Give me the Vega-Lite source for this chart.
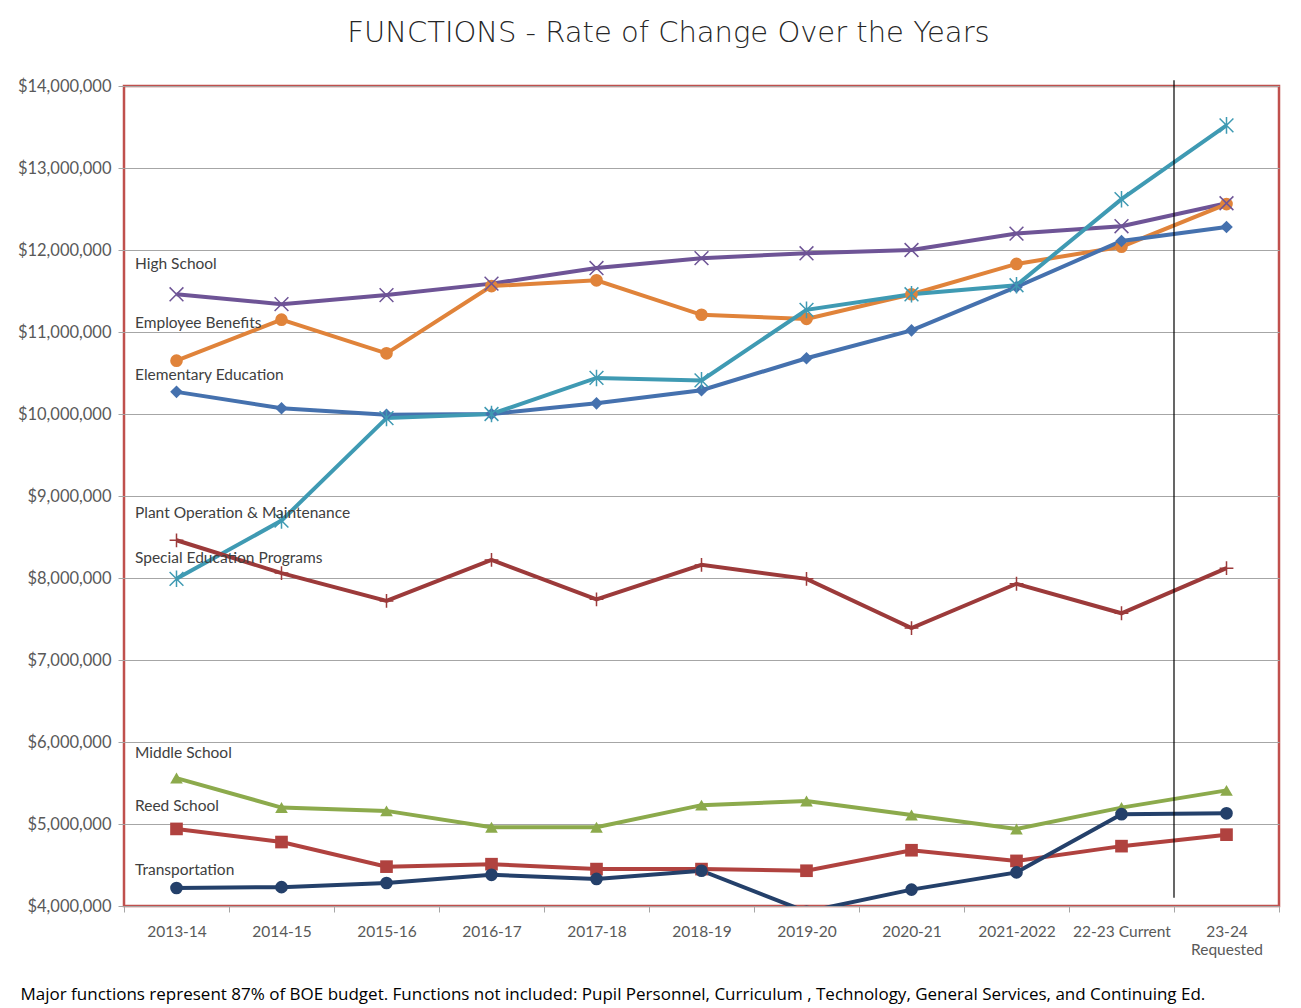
{
  "$schema": "https://vega.github.io/schema/vega-lite/v6.json",
  "autosize": "none",
  "width": 1155,
  "height": 820,
  "padding": {"left": 124, "top": 86, "right": 22, "bottom": 102},
  "background": "white",
  "title": {
    "text": "FUNCTIONS - Rate of Change Over the Years",
    "font": "DejaVu Sans",
    "fontWeight": 200,
    "fontSize": 29,
    "color": "#262626",
    "anchor": "middle",
    "offset": 30,
    "dx": -33
  },
  "config": {
    "view": {"stroke": "#C0504D", "strokeWidth": 2.5},
    "axis": {
      "labelFont": "Lato",
      "labelFontSize": 15.5,
      "labelColor": "#595959",
      "gridColor": "#A6A6A6",
      "gridWidth": 1,
      "tickColor": "#A6A6A6",
      "domain": false
    }
  },
  "datasets": {
    "series": [
      {"series": "High School", "year": "2013-14", "value": 11460000},
      {"series": "High School", "year": "2014-15", "value": 11340000},
      {"series": "High School", "year": "2015-16", "value": 11450000},
      {"series": "High School", "year": "2016-17", "value": 11590000},
      {"series": "High School", "year": "2017-18", "value": 11780000},
      {"series": "High School", "year": "2018-19", "value": 11900000},
      {"series": "High School", "year": "2019-20", "value": 11960000},
      {"series": "High School", "year": "2020-21", "value": 12000000},
      {"series": "High School", "year": "2021-2022", "value": 12200000},
      {"series": "High School", "year": "22-23 Current", "value": 12290000},
      {"series": "High School", "year": "23-24 Requested", "value": 12570000},
      {"series": "Employee Benefits", "year": "2013-14", "value": 10650000},
      {"series": "Employee Benefits", "year": "2014-15", "value": 11150000},
      {"series": "Employee Benefits", "year": "2015-16", "value": 10740000},
      {"series": "Employee Benefits", "year": "2016-17", "value": 11560000},
      {"series": "Employee Benefits", "year": "2017-18", "value": 11630000},
      {"series": "Employee Benefits", "year": "2018-19", "value": 11210000},
      {"series": "Employee Benefits", "year": "2019-20", "value": 11160000},
      {"series": "Employee Benefits", "year": "2020-21", "value": 11460000},
      {"series": "Employee Benefits", "year": "2021-2022", "value": 11830000},
      {"series": "Employee Benefits", "year": "22-23 Current", "value": 12040000},
      {"series": "Employee Benefits", "year": "23-24 Requested", "value": 12560000},
      {"series": "Elementary Education", "year": "2013-14", "value": 10270000},
      {"series": "Elementary Education", "year": "2014-15", "value": 10070000},
      {"series": "Elementary Education", "year": "2015-16", "value": 9990000},
      {"series": "Elementary Education", "year": "2016-17", "value": 10000000},
      {"series": "Elementary Education", "year": "2017-18", "value": 10130000},
      {"series": "Elementary Education", "year": "2018-19", "value": 10290000},
      {"series": "Elementary Education", "year": "2019-20", "value": 10680000},
      {"series": "Elementary Education", "year": "2020-21", "value": 11020000},
      {"series": "Elementary Education", "year": "2021-2022", "value": 11550000},
      {"series": "Elementary Education", "year": "22-23 Current", "value": 12110000},
      {"series": "Elementary Education", "year": "23-24 Requested", "value": 12280000},
      {"series": "Plant Operation & Maintenance", "year": "2013-14", "value": 7990000},
      {"series": "Plant Operation & Maintenance", "year": "2014-15", "value": 8700000},
      {"series": "Plant Operation & Maintenance", "year": "2015-16", "value": 9950000},
      {"series": "Plant Operation & Maintenance", "year": "2016-17", "value": 10000000},
      {"series": "Plant Operation & Maintenance", "year": "2017-18", "value": 10440000},
      {"series": "Plant Operation & Maintenance", "year": "2018-19", "value": 10410000},
      {"series": "Plant Operation & Maintenance", "year": "2019-20", "value": 11270000},
      {"series": "Plant Operation & Maintenance", "year": "2020-21", "value": 11460000},
      {"series": "Plant Operation & Maintenance", "year": "2021-2022", "value": 11570000},
      {"series": "Plant Operation & Maintenance", "year": "22-23 Current", "value": 12620000},
      {"series": "Plant Operation & Maintenance", "year": "23-24 Requested", "value": 13520000},
      {"series": "Special Education Programs", "year": "2013-14", "value": 8460000},
      {"series": "Special Education Programs", "year": "2014-15", "value": 8060000},
      {"series": "Special Education Programs", "year": "2015-16", "value": 7720000},
      {"series": "Special Education Programs", "year": "2016-17", "value": 8220000},
      {"series": "Special Education Programs", "year": "2017-18", "value": 7740000},
      {"series": "Special Education Programs", "year": "2018-19", "value": 8160000},
      {"series": "Special Education Programs", "year": "2019-20", "value": 7990000},
      {"series": "Special Education Programs", "year": "2020-21", "value": 7390000},
      {"series": "Special Education Programs", "year": "2021-2022", "value": 7930000},
      {"series": "Special Education Programs", "year": "22-23 Current", "value": 7570000},
      {"series": "Special Education Programs", "year": "23-24 Requested", "value": 8120000},
      {"series": "Middle School", "year": "2013-14", "value": 5560000},
      {"series": "Middle School", "year": "2014-15", "value": 5200000},
      {"series": "Middle School", "year": "2015-16", "value": 5160000},
      {"series": "Middle School", "year": "2016-17", "value": 4960000},
      {"series": "Middle School", "year": "2017-18", "value": 4960000},
      {"series": "Middle School", "year": "2018-19", "value": 5230000},
      {"series": "Middle School", "year": "2019-20", "value": 5280000},
      {"series": "Middle School", "year": "2020-21", "value": 5110000},
      {"series": "Middle School", "year": "2021-2022", "value": 4940000},
      {"series": "Middle School", "year": "22-23 Current", "value": 5200000},
      {"series": "Middle School", "year": "23-24 Requested", "value": 5410000},
      {"series": "Reed School", "year": "2013-14", "value": 4940000},
      {"series": "Reed School", "year": "2014-15", "value": 4780000},
      {"series": "Reed School", "year": "2015-16", "value": 4480000},
      {"series": "Reed School", "year": "2016-17", "value": 4510000},
      {"series": "Reed School", "year": "2017-18", "value": 4450000},
      {"series": "Reed School", "year": "2018-19", "value": 4450000},
      {"series": "Reed School", "year": "2019-20", "value": 4430000},
      {"series": "Reed School", "year": "2020-21", "value": 4680000},
      {"series": "Reed School", "year": "2021-2022", "value": 4550000},
      {"series": "Reed School", "year": "22-23 Current", "value": 4730000},
      {"series": "Reed School", "year": "23-24 Requested", "value": 4870000},
      {"series": "Transportation", "year": "2013-14", "value": 4220000},
      {"series": "Transportation", "year": "2014-15", "value": 4230000},
      {"series": "Transportation", "year": "2015-16", "value": 4280000},
      {"series": "Transportation", "year": "2016-17", "value": 4380000},
      {"series": "Transportation", "year": "2017-18", "value": 4330000},
      {"series": "Transportation", "year": "2018-19", "value": 4430000},
      {"series": "Transportation", "year": "2019-20", "value": 3930000},
      {"series": "Transportation", "year": "2020-21", "value": 4200000},
      {"series": "Transportation", "year": "2021-2022", "value": 4410000},
      {"series": "Transportation", "year": "22-23 Current", "value": 5120000},
      {"series": "Transportation", "year": "23-24 Requested", "value": 5130000}
    ],
    "labels": [
      {"label": "High School", "year": "2013-14", "value": 11830000},
      {"label": "Employee Benefits", "year": "2013-14", "value": 11110000},
      {"label": "Elementary Education", "year": "2013-14", "value": 10480000},
      {"label": "Plant Operation & Maintenance", "year": "2013-14", "value": 8790000},
      {"label": "Special Education Programs", "year": "2013-14", "value": 8240000},
      {"label": "Middle School", "year": "2013-14", "value": 5870000},
      {"label": "Reed School", "year": "2013-14", "value": 5220000},
      {"label": "Transportation", "year": "2013-14", "value": 4440000}
    ],
    "divider": [
      {"year": "23-24 Requested", "top": 14070000, "bottom": 4100000}
    ]
  },
  "encoding": {
    "x": {
      "field": "year",
      "type": "nominal",
      "sort": null,
      "scale": {
        "type": "band",
        "domain": ["2013-14", "2014-15", "2015-16", "2016-17", "2017-18", "2018-19", "2019-20", "2020-21", "2021-2022", "22-23 Current", "23-24 Requested"],
        "paddingInner": 0,
        "paddingOuter": 0
      },
      "axis": {
        "labelAngle": 0,
        "tickBand": "extent",
        "tickSize": 6,
        "grid": false,
        "labelPadding": 12,
        "labelLineHeight": 18,
        "labelExpr": "datum.value == '23-24 Requested' ? ['23-24', 'Requested'] : datum.label",
        "title": "Major functions represent 87% of BOE budget.  Functions not included: Pupil Personnel, Curriculum  , Technology, General Services, and Continuing Ed.",
        "titleFont": "Open Sans",
        "titleFontSize": 17,
        "titleFontWeight": "normal",
        "titleColor": "#000000",
        "titleAnchor": "start",
        "titleAlign": "left",
        "titleBaseline": "alphabetic",
        "titleX": -104,
        "titleY": 93
      }
    }
  },
  "layer": [
    {
      "data": {"name": "series"},
      "mark": {"type": "line", "strokeWidth": 4, "clip": true},
      "encoding": {
        "x": {"field": "year", "type": "nominal", "sort": null, "bandPosition": 0.5},
        "y": {
          "field": "value",
          "type": "quantitative",
          "scale": {"domain": [4000000, 14000000], "nice": false, "zero": false},
          "axis": {
            "values": [4000000, 5000000, 6000000, 7000000, 8000000, 9000000, 10000000, 11000000, 12000000, 13000000, 14000000],
            "format": "$,.0f",
            "title": null,
            "tickSize": 6,
            "labelPadding": 7,
            "labelFontSize": 16.5
          }
        },
        "color": {
          "field": "series",
          "type": "nominal",
          "legend": null,
          "scale": {
            "domain": ["High School", "Employee Benefits", "Elementary Education", "Plant Operation & Maintenance", "Special Education Programs", "Middle School", "Reed School", "Transportation"],
            "range": ["#6E5496", "#E0833A", "#4571AE", "#3F9AB3", "#9C3A3A", "#8CAA4C", "#B0423F", "#24406A"]
          }
        },
        "detail": {"field": "series"}
      }
    },
    {
      "data": {"name": "series"},
      "transform": [{"filter": "indexof(['Employee Benefits','Elementary Education','Middle School','Reed School','Transportation'], datum.series) >= 0"}],
      "mark": {"type": "point", "filled": true, "opacity": 1, "size": 160, "clip": true},
      "encoding": {
        "x": {"field": "year", "type": "nominal", "sort": null, "bandPosition": 0.5},
        "y": {"field": "value", "type": "quantitative"},
        "color": {"field": "series", "type": "nominal"},
        "shape": {
          "field": "series",
          "type": "nominal",
          "legend": null,
          "scale": {
            "domain": ["High School", "Employee Benefits", "Elementary Education", "Plant Operation & Maintenance", "Special Education Programs", "Middle School", "Reed School", "Transportation"],
            "range": ["M-1,-1L1,1M-1,1L1,-1", "circle", "diamond", "M-1,-1L1,1M-1,1L1,-1M0,-1.2L0,1.2", "M-1,0L1,0M0,-1L0,1", "triangle-up", "square", "circle"]
          }
        }
      }
    },
    {
      "data": {"name": "series"},
      "transform": [{"filter": "indexof(['High School','Plant Operation & Maintenance','Special Education Programs'], datum.series) >= 0"}],
      "mark": {"type": "point", "filled": false, "opacity": 1, "size": 190, "strokeWidth": 1.5, "clip": true},
      "encoding": {
        "x": {"field": "year", "type": "nominal", "sort": null, "bandPosition": 0.5},
        "y": {"field": "value", "type": "quantitative"},
        "color": {"field": "series", "type": "nominal"},
        "shape": {"field": "series", "type": "nominal"}
      }
    },
    {
      "data": {"name": "labels"},
      "mark": {"type": "text", "align": "left", "baseline": "middle", "dx": 11, "font": "Lato", "fontSize": 15.5, "color": "#404040"},
      "encoding": {
        "x": {"field": "year", "type": "nominal", "sort": null, "bandPosition": 0},
        "y": {"field": "value", "type": "quantitative"},
        "text": {"field": "label"}
      }
    },
    {
      "data": {"name": "divider"},
      "mark": {"type": "rule", "color": "#000000", "strokeWidth": 1.2, "clip": false},
      "encoding": {
        "x": {"field": "year", "type": "nominal", "sort": null, "bandPosition": 0},
        "y": {"field": "top", "type": "quantitative"},
        "y2": {"field": "bottom"}
      }
    }
  ]
}
